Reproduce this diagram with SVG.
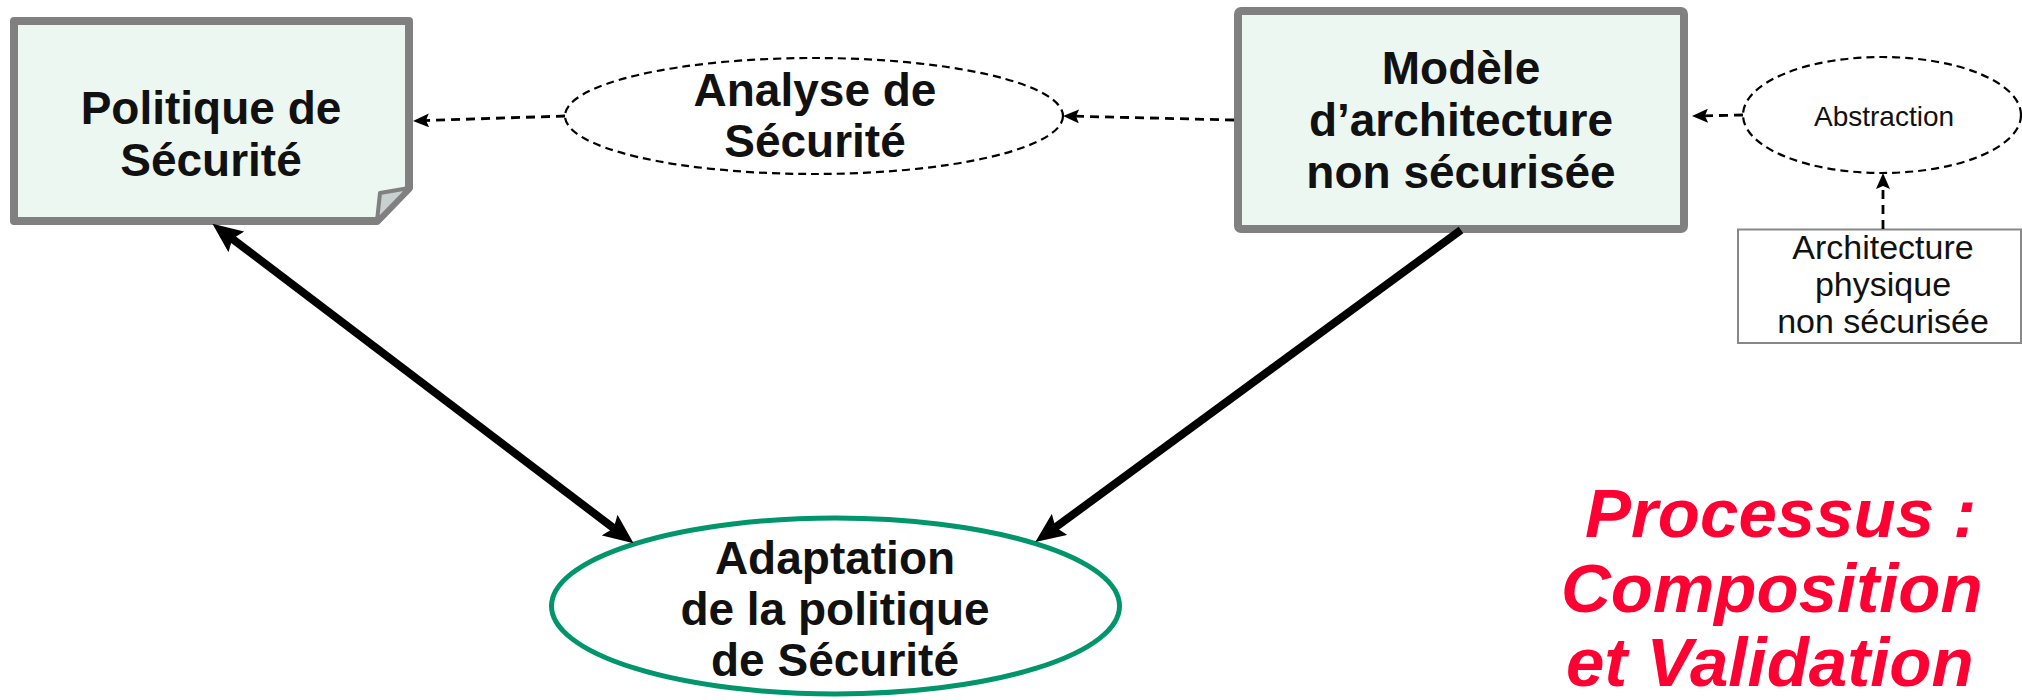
<svg xmlns="http://www.w3.org/2000/svg" width="2022" height="700" viewBox="0 0 2022 700">
  <style>
    .box { fill: #EDF7F1; stroke: #808080; stroke-linejoin: round; }
    .big { font-family: "Liberation Sans", Arial, sans-serif; font-weight: bold; font-size: 46px; fill: #111; text-anchor: middle; }
    .small { font-family: "Liberation Sans", Arial, sans-serif; fill: #111; text-anchor: middle; }
    .dashell { fill: none; stroke: #000; stroke-width: 2.2; stroke-dasharray: 8 5; }
    .dash { fill: none; stroke: #000; stroke-width: 2.8; stroke-dasharray: 9 6; }
    .thick { fill: none; stroke: #000; stroke-width: 8; }
    .red { font-family: "Liberation Sans", Arial, sans-serif; font-weight: bold; font-style: italic; font-size: 69px; fill: #FF0033; }
  </style>
  <defs>
    <marker id="dhead" viewBox="0 0 16 14" refX="5" refY="7" markerWidth="16" markerHeight="14" markerUnits="userSpaceOnUse" orient="auto">
      <path d="M0,0 L16,7 L0,14 L3,7 Z" fill="#000"/>
    </marker>
    <marker id="thead" viewBox="0 0 30 26" refX="18" refY="13" markerWidth="30" markerHeight="26" markerUnits="userSpaceOnUse" orient="auto-start-reverse">
      <path d="M0,0 L30,13 L0,26 L5,13 Z" fill="#000"/>
    </marker>
  </defs>
  <rect width="2022" height="700" fill="#fff"/>

  <!-- Security policy: note shape with folded corner -->
  <g id="politique">
    <path class="box" stroke-width="8" d="M14,21 H409 V188 L377,221 H14 Z"/>
    <path d="M409,188 L380,193 L377,221 Z" fill="#C9D0D0" stroke="#808080" stroke-width="4" stroke-linejoin="round"/>
    <text class="big" x="211" y="124">Politique de</text>
    <text class="big" x="211" y="176">Sécurité</text>
  </g>

  <g id="analyse">
    <ellipse class="dashell" cx="814" cy="116" rx="249" ry="58"/>
    <text class="big" x="815" y="106">Analyse de</text>
    <text class="big" x="815" y="157">Sécurité</text>
  </g>

  <g id="modele">
    <rect class="box" stroke-width="8" x="1238" y="11" width="446" height="218" rx="3"/>
    <text class="big" x="1461" y="84">Modèle</text>
    <text class="big" x="1461" y="136">d’architecture</text>
    <text class="big" x="1461" y="188">non sécurisée</text>
  </g>

  <g id="abstraction">
    <ellipse class="dashell" cx="1882" cy="115" rx="139" ry="58"/>
    <text class="small" x="1884" y="126" font-size="28">Abstraction</text>
  </g>

  <g id="architecture-physique">
    <rect x="1738" y="229.5" width="283" height="113.5" fill="#fff" stroke="#888" stroke-width="2"/>
    <text class="small" font-size="34" x="1883" y="259">Architecture</text>
    <text class="small" font-size="34" x="1883" y="296">physique</text>
    <text class="small" font-size="34" x="1883" y="333">non sécurisée</text>
  </g>

  <g id="adaptation">
    <ellipse cx="835.5" cy="606" rx="284" ry="88" fill="none" stroke="#00956A" stroke-width="5"/>
    <text class="big" x="835" y="574">Adaptation</text>
    <text class="big" x="835" y="625">de la politique</text>
    <text class="big" x="835" y="676">de Sécurité</text>
  </g>

  <g id="titre">
    <text class="red" x="1585" y="537">Processus :</text>
    <text class="red" x="1561" y="612">Composition</text>
    <text class="red" x="1566" y="686">et Validation</text>
  </g>

  <g id="connectors">
    <line class="dash" x1="565" y1="116" x2="424" y2="120.6" marker-end="url(#dhead)"/>
    <line class="dash" x1="1234" y1="120" x2="1074" y2="116.2" marker-end="url(#dhead)"/>
    <line class="dash" x1="1743" y1="115" x2="1703" y2="115.8" marker-end="url(#dhead)"/>
    <line class="dash" x1="1883" y1="229" x2="1883" y2="184" marker-end="url(#dhead)"/>
    <line class="thick" x1="222" y1="231" x2="624" y2="536" marker-start="url(#thead)" marker-end="url(#thead)"/>
    <line class="thick" x1="1461" y1="230" x2="1045" y2="535" marker-end="url(#thead)"/>
  </g>
</svg>
